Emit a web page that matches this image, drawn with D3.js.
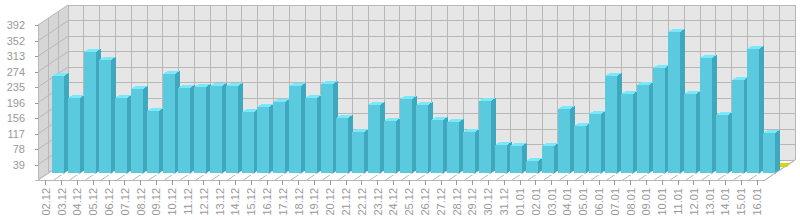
<!DOCTYPE html>
<html>
<head>
<meta charset="utf-8">
<script src="https://d3js.org/d3.v7.min.js"></script>
<style>
  html, body { margin: 0; background: #fff; }
  svg { display: block; }
  text { font-family: "Liberation Sans", sans-serif; font-size: 11px; }
</style>
</head>
<body>
<div id="app"></div>
<script>
'use strict'

const days = ['02.12', '03.12', '04.12', '05.12', '06.12', '07.12', '08.12', '09.12', '10.12', '11.12',
  '12.12', '13.12', '14.12', '15.12', '16.12', '17.12', '18.12', '19.12', '20.12', '21.12', '22.12',
  '23.12', '24.12', '25.12', '26.12', '27.12', '28.12', '29.12', '30.12', '31.12', '01.01', '02.01',
  '03.01', '04.01', '05.01', '06.01', '07.01', '08.01', '09.01', '10.01', '11.01', '12.01', '13.01',
  '14.01', '15.01', '16.01']
const visits = [245, 190, 306, 286, 190, 212, 157, 250, 215, 217, 220, 220, 154, 167, 180, 220, 190, 225,
  139, 104, 172, 132, 187, 172, 134, 129, 104, 182, 71, 68, 30, 68, 162, 119, 149, 245, 200, 223, 266,
  357, 200, 291, 147, 235, 314, 101]
// second series sits behind the blue one, flat on the floor, only the last one shows
const backSeries = days.map(() => 0)
const valueTicks = [39, 78, 117, 156, 196, 235, 274, 313, 352, 392]

const width = 800
const height = 220
// front plane of the box, and how far back the wall sits
const frontLeft = 38
const frontRight = 765
const frontBottom = 180
const depthX = 30
const depthY = -20
// bars stand part way into the box
const barDepthX = 14
const barDepthY = -7
const sideX = 5
const sideY = -3

const x = d3.scaleBand().domain(days).range([frontLeft, frontRight])
const y = d3.scaleLinear().domain([0, 392]).range([frontBottom, 25])

const svg = d3.select('#app').append('svg')
  .attr('width', width)
  .attr('height', height)

const poly = pts => pts.map(p => p.join(',')).join(' ')
const gridColor = '#b8b8b8'
const textColor = '#999'

// walls
svg.append('polygon')
  .attr('points', poly([[frontLeft + depthX, y(392) + depthY], [frontRight + depthX, y(392) + depthY],
    [frontRight + depthX, frontBottom + depthY], [frontLeft + depthX, frontBottom + depthY]]))
  .attr('fill', '#e6e6e6')
svg.append('polygon')
  .attr('points', poly([[frontLeft, y(392)], [frontLeft + depthX, y(392) + depthY],
    [frontLeft + depthX, frontBottom + depthY], [frontLeft, frontBottom]]))
  .attr('fill', '#d6d6d6')

const grid = svg.append('g').attr('stroke', gridColor).attr('fill', 'none')

// horizontal grid, wall then side
valueTicks.concat([0]).forEach(v => {
  grid.append('line').attr('shape-rendering', 'crispEdges')
    .attr('x1', frontLeft + depthX).attr('x2', frontRight + depthX)
    .attr('y1', y(v) + depthY).attr('y2', y(v) + depthY)
  grid.append('line')
    .attr('x1', frontLeft).attr('x2', frontLeft + depthX)
    .attr('y1', y(v)).attr('y2', y(v) + depthY)
})

// vertical grid and floor diagonals
days.concat(['end']).forEach((d, i) => {
  const px = frontLeft + i * x.step()
  grid.append('line').attr('shape-rendering', 'crispEdges')
    .attr('x1', px + depthX).attr('x2', px + depthX)
    .attr('y1', y(392) + depthY).attr('y2', frontBottom + depthY)
  grid.append('line')
    .attr('x1', px).attr('x2', px + depthX)
    .attr('y1', frontBottom).attr('y2', frontBottom + depthY)
})

// depth lines on the side wall
d3.range(0, 4).forEach(k => {
  const dx = k * depthX / 3
  const dy = k * depthY / 3
  grid.append('line').attr('shape-rendering', 'crispEdges')
    .attr('x1', frontLeft + dx).attr('x2', frontLeft + dx)
    .attr('y1', y(392) + dy).attr('y2', frontBottom + dy)
})

// front edge of the floor
grid.append('line').attr('shape-rendering', 'crispEdges')
  .attr('x1', frontLeft - 3).attr('x2', frontRight)
  .attr('y1', frontBottom).attr('y2', frontBottom)

// white strip the bars stand on
svg.append('line').attr('shape-rendering', 'crispEdges')
  .attr('x1', frontLeft + barDepthX).attr('x2', frontRight + barDepthX)
  .attr('y1', frontBottom + barDepthY + 1).attr('y2', frontBottom + barDepthY + 1)
  .attr('stroke', '#fff')

// value ticks and labels
const yAxis = svg.append('g')
  .attr('transform', `translate(${frontLeft},0)`)
  .call(d3.axisLeft(y).tickValues(valueTicks).tickSize(3).tickSizeOuter(0))
yAxis.select('.domain').remove()
yAxis.selectAll('line').attr('stroke', '#999').attr('shape-rendering', 'crispEdges')
yAxis.selectAll('text').attr('fill', textColor).attr('x', -13)

// day ticks and rotated labels
const xAxis = svg.append('g')
  .attr('transform', `translate(0,${frontBottom})`)
  .call(d3.axisBottom(x).tickSize(5).tickSizeOuter(0))
xAxis.select('.domain').remove()
xAxis.selectAll('line').attr('stroke', '#999').attr('shape-rendering', 'crispEdges')
xAxis.selectAll('text')
  .attr('transform', 'rotate(-90)')
  .attr('text-anchor', 'end')
  .attr('x', -8).attr('y', 0).attr('dy', '0.35em')
  .attr('fill', textColor)

const barW = 12
const bx = i => Math.round(x(days[i]) + barDepthX)
const by = d => Math.round(y(d) + barDepthY)
const base = frontBottom + barDepthY

// back series, flat tops only
svg.append('g').selectAll('polygon')
  .data(backSeries)
  .enter().append('polygon')
  .attr('fill', '#d8d800')
  .attr('points', (d, i) => poly([[bx(i) + barW, by(d) - 6], [bx(i) + barW + 4, by(d) - 10],
    [bx(i) + barW * 2 + 4, by(d) - 10], [bx(i) + barW * 2, by(d) - 6]]))

// bars: side, top, front
const bars = svg.append('g').selectAll('g')
  .data(visits)
  .enter().append('g')
  .attr('shape-rendering', 'crispEdges')

bars.append('polygon')
  .attr('fill', '#3fa8bf')
  .attr('points', (d, i) => poly([[bx(i) + barW, by(d)], [bx(i) + barW + sideX, by(d) + sideY],
    [bx(i) + barW + sideX, base + sideY], [bx(i) + barW, base]]))
bars.append('polygon')
  .attr('fill', '#7ae8fb')
  .attr('points', (d, i) => poly([[bx(i), by(d)], [bx(i) + sideX, by(d) + sideY],
    [bx(i) + barW + sideX, by(d) + sideY], [bx(i) + barW, by(d)]]))
bars.append('rect')
  .attr('fill', '#5ccade')
  .attr('x', (d, i) => bx(i))
  .attr('y', d => by(d))
  .attr('width', barW)
  .attr('height', d => base - by(d))

// floor right edge goes over the back series
svg.append('line')
  .attr('x1', frontRight).attr('x2', frontRight + depthX)
  .attr('y1', frontBottom).attr('y2', frontBottom + depthY)
  .attr('stroke', gridColor)
</script>
</body>
</html>
